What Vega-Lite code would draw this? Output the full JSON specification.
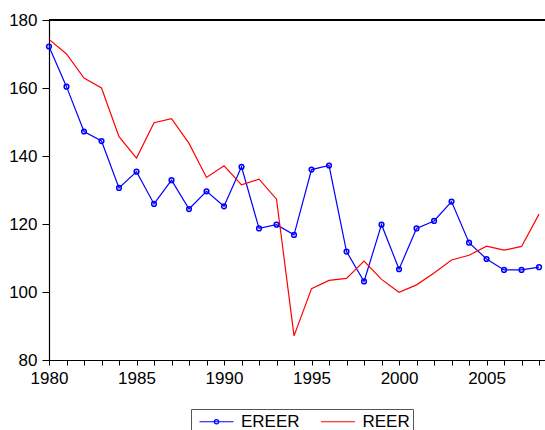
{
  "$schema": "https://vega.github.io/schema/vega-lite/v6.json",
  "width": 496,
  "height": 340,
  "autosize": {"type": "none"},
  "padding": {"left": 49, "top": 20, "right": 0, "bottom": 70},
  "config": {
    "view": {"stroke": null},
    "font": "Liberation Sans",
    "axis": {"domainColor": "black", "tickColor": "black", "labelColor": "black", "labelFontSize": 17, "labelFont": "Liberation Sans", "grid": false, "title": null, "domainWidth": 1.2, "tickWidth": 1}
  },
  "data": {
    "values": [
      {"year": 1980, "series": "EREER", "value": 172.2},
      {"year": 1981, "series": "EREER", "value": 160.4},
      {"year": 1982, "series": "EREER", "value": 147.2},
      {"year": 1983, "series": "EREER", "value": 144.4},
      {"year": 1984, "series": "EREER", "value": 130.6},
      {"year": 1985, "series": "EREER", "value": 135.4},
      {"year": 1986, "series": "EREER", "value": 125.9},
      {"year": 1987, "series": "EREER", "value": 132.9},
      {"year": 1988, "series": "EREER", "value": 124.4},
      {"year": 1989, "series": "EREER", "value": 129.6},
      {"year": 1990, "series": "EREER", "value": 125.2},
      {"year": 1991, "series": "EREER", "value": 136.8},
      {"year": 1992, "series": "EREER", "value": 118.7},
      {"year": 1993, "series": "EREER", "value": 119.8},
      {"year": 1994, "series": "EREER", "value": 116.8},
      {"year": 1995, "series": "EREER", "value": 136.0},
      {"year": 1996, "series": "EREER", "value": 137.2},
      {"year": 1997, "series": "EREER", "value": 111.9},
      {"year": 1998, "series": "EREER", "value": 103.1},
      {"year": 1999, "series": "EREER", "value": 119.8},
      {"year": 2000, "series": "EREER", "value": 106.7},
      {"year": 2001, "series": "EREER", "value": 118.7},
      {"year": 2002, "series": "EREER", "value": 120.9},
      {"year": 2003, "series": "EREER", "value": 126.6},
      {"year": 2004, "series": "EREER", "value": 114.5},
      {"year": 2005, "series": "EREER", "value": 109.7},
      {"year": 2006, "series": "EREER", "value": 106.5},
      {"year": 2007, "series": "EREER", "value": 106.5},
      {"year": 2008, "series": "EREER", "value": 107.3},
      {"year": 1980, "series": "REER", "value": 174.3},
      {"year": 1981, "series": "REER", "value": 170.0},
      {"year": 1982, "series": "REER", "value": 162.9},
      {"year": 1983, "series": "REER", "value": 160.0},
      {"year": 1984, "series": "REER", "value": 145.7},
      {"year": 1985, "series": "REER", "value": 139.4},
      {"year": 1986, "series": "REER", "value": 149.8},
      {"year": 1987, "series": "REER", "value": 151.0},
      {"year": 1988, "series": "REER", "value": 143.7},
      {"year": 1989, "series": "REER", "value": 133.7},
      {"year": 1990, "series": "REER", "value": 137.1},
      {"year": 1991, "series": "REER", "value": 131.5},
      {"year": 1992, "series": "REER", "value": 133.2},
      {"year": 1993, "series": "REER", "value": 127.3},
      {"year": 1994, "series": "REER", "value": 87.1},
      {"year": 1995, "series": "REER", "value": 101.0},
      {"year": 1996, "series": "REER", "value": 103.4},
      {"year": 1997, "series": "REER", "value": 104.0},
      {"year": 1998, "series": "REER", "value": 109.1},
      {"year": 1999, "series": "REER", "value": 103.7},
      {"year": 2000, "series": "REER", "value": 99.9},
      {"year": 2001, "series": "REER", "value": 102.1},
      {"year": 2002, "series": "REER", "value": 105.6},
      {"year": 2003, "series": "REER", "value": 109.4},
      {"year": 2004, "series": "REER", "value": 110.8},
      {"year": 2005, "series": "REER", "value": 113.5},
      {"year": 2006, "series": "REER", "value": 112.3},
      {"year": 2007, "series": "REER", "value": 113.4},
      {"year": 2008, "series": "REER", "value": 122.9}
    ]
  },
  "layer": [
    {
      "mark": {"type": "line", "strokeWidth": 1.2},
      "encoding": {
        "x": {
          "field": "year", "type": "quantitative",
          "scale": {"domain": [1980, 2008.34], "nice": false, "zero": false},
          "axis": {
            "orient": "bottom",
            "values": [1980,1981,1982,1983,1984,1985,1986,1987,1988,1989,1990,1991,1992,1993,1994,1995,1996,1997,1998,1999,2000,2001,2002,2003,2004,2005,2006,2007,2008],
            "format": "d",
            "labelExpr": "datum.value % 5 === 0 ? datum.label : ''",
            "tickSize": 5, "labelPadding": 5, "labelOverlap": false, "labelFlush": false, "labelBound": false
          }
        },
        "y": {
          "field": "value", "type": "quantitative",
          "scale": {"domain": [80, 180], "nice": false, "zero": false},
          "axis": {"values": [80, 100, 120, 140, 160, 180], "tickSize": 7, "labelPadding": 5, "labelOverlap": false, "labelFlush": false}
        },
        "color": {
          "field": "series", "type": "nominal",
          "scale": {"domain": ["EREER", "REER"], "range": ["#0000ff", "#ff0000"]},
          "legend": {
            "orient": "none", "legendX": 142, "legendY": 389, "direction": "horizontal",
            "title": null, "strokeColor": "#555555", "padding": 3,
            "labelFontSize": 17, "labelFont": "Liberation Sans", "labelColor": "black",
            "labelOffset": 28, "columnPadding": 15.5, "symbolSize": 289, "symbolStrokeWidth": 1.2,
            "encode": {
              "symbols": {
                "update": {
                  "shape": {"signal": "datum.value === 'EREER' ? 'M-0.47,0L3.53,0M1.28,0A0.25,0.25 0 1,1 1.78,0A0.25,0.25 0 1,1 1.28,0' : 'M-0.47,0L3.53,0'"},
                  "fill": {"value": "transparent"}
                }
              }
            }
          }
        }
      }
    },
    {
      "transform": [{"filter": "datum.series === 'EREER'"}],
      "mark": {"type": "point", "shape": "circle", "filled": false, "color": "#0000ff", "size": 22, "strokeWidth": 1.5, "opacity": 1},
      "encoding": {
        "x": {
          "field": "year", "type": "quantitative",
          "axis": {
            "orient": "bottom",
            "values": [1980,1981,1982,1983,1984,1985,1986,1987,1988,1989,1990,1991,1992,1993,1994,1995,1996,1997,1998,1999,2000,2001,2002,2003,2004,2005,2006,2007,2008],
            "format": "d",
            "labelExpr": "datum.value % 5 === 0 ? datum.label : ''",
            "tickSize": 5, "labelPadding": 5, "labelOverlap": false, "labelFlush": false, "labelBound": false
          }
        },
        "y": {
          "field": "value", "type": "quantitative",
          "axis": {"values": [80, 100, 120, 140, 160, 180], "tickSize": 7, "labelPadding": 5, "labelOverlap": false, "labelFlush": false}
        }
      }
    },
    {
      "mark": {"type": "rule", "color": "black", "strokeWidth": 1.2},
      "encoding": {
        "y": {
          "datum": 180, "type": "quantitative",
          "axis": {"values": [80, 100, 120, 140, 160, 180], "tickSize": 7, "labelPadding": 5, "labelOverlap": false, "labelFlush": false}
        }
      }
    }
  ]
}
